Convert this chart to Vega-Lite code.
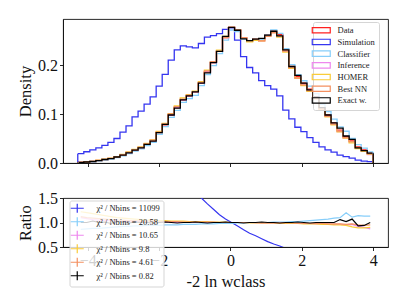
{
  "$schema": "https://vega.github.io/schema/vega-lite/v6.json",
  "padding": {"left": 17, "top": 18, "right": 5, "bottom": 5},
  "background": "white",
  "bounds": "flush",
  "spacing": 35,
  "config": {
    "font": "Liberation Serif",
    "view": {"stroke": "#111", "strokeWidth": 0.9},
    "axis": {"domainColor": "#111", "domainWidth": 0.9, "tickColor": "#111", "tickWidth": 0.9, "tickSize": 3.5, "grid": false, "labelFont": "Liberation Serif", "labelFontSize": 16, "labelColor": "#111", "titleFont": "Liberation Serif", "titleFontSize": 16.5, "titleFontWeight": "normal", "titleColor": "#111", "labelPadding": 2},
    "legend": {"labelFont": "Liberation Serif", "labelColor": "#222"}
  },
  "datasets": {
    "h": [
      {"k":0,"x0":-4.28,"x1":-4.111,"xc":-4.196,"D":0.001,"S":0.019,"C":0.0009,"I":0.0011,"H":0.0012,"B":0.0011,"E":0.001,"rS":19,"rC":0.86,"rI":1.10,"rH":1.22,"rB":1.12,"rE":1.00},
      {"k":1,"x0":-4.111,"x1":-3.942,"xc":-4.027,"D":0.002,"S":0.023,"C":0.0017,"I":0.0022,"H":0.0024,"B":0.0022,"E":0.002,"rS":11.5,"rC":0.87,"rI":1.08,"rH":1.20,"rB":1.10,"rE":1.00},
      {"k":2,"x0":-3.942,"x1":-3.773,"xc":-3.858,"D":0.003,"S":0.027,"C":0.0026,"I":0.0032,"H":0.0035,"B":0.0033,"E":0.0031,"rS":9.0,"rC":0.88,"rI":1.06,"rH":1.18,"rB":1.09,"rE":1.03},
      {"k":3,"x0":-3.773,"x1":-3.604,"xc":-3.689,"D":0.005,"S":0.031,"C":0.0044,"I":0.0053,"H":0.0058,"B":0.0054,"E":0.005,"rS":6.2,"rC":0.88,"rI":1.05,"rH":1.16,"rB":1.08,"rE":1.00},
      {"k":4,"x0":-3.604,"x1":-3.435,"xc":-3.52,"D":0.007,"S":0.036,"C":0.0062,"I":0.0073,"H":0.008,"B":0.0075,"E":0.0071,"rS":5.14,"rC":0.89,"rI":1.04,"rH":1.14,"rB":1.07,"rE":1.01},
      {"k":5,"x0":-3.435,"x1":-3.266,"xc":-3.351,"D":0.009,"S":0.042,"C":0.0081,"I":0.0094,"H":0.0101,"B":0.0095,"E":0.0088,"rS":4.67,"rC":0.90,"rI":1.04,"rH":1.12,"rB":1.06,"rE":0.98},
      {"k":6,"x0":-3.266,"x1":-3.097,"xc":-3.182,"D":0.012,"S":0.050,"C":0.0109,"I":0.0124,"H":0.0132,"B":0.0126,"E":0.0122,"rS":4.17,"rC":0.91,"rI":1.03,"rH":1.10,"rB":1.05,"rE":1.02},
      {"k":7,"x0":-3.097,"x1":-2.928,"xc":-3.013,"D":0.016,"S":0.063,"C":0.0147,"I":0.0165,"H":0.0174,"B":0.0168,"E":0.016,"rS":3.94,"rC":0.92,"rI":1.03,"rH":1.09,"rB":1.05,"rE":1.00},
      {"k":8,"x0":-2.928,"x1":-2.759,"xc":-2.844,"D":0.021,"S":0.076,"C":0.0193,"I":0.0214,"H":0.0227,"B":0.0218,"E":0.0208,"rS":3.62,"rC":0.92,"rI":1.02,"rH":1.08,"rB":1.04,"rE":0.99},
      {"k":9,"x0":-2.759,"x1":-2.59,"xc":-2.675,"D":0.026,"S":0.094,"C":0.0242,"I":0.0265,"H":0.0278,"B":0.027,"E":0.0263,"rS":3.62,"rC":0.93,"rI":1.02,"rH":1.07,"rB":1.04,"rE":1.01},
      {"k":10,"x0":-2.59,"x1":-2.421,"xc":-2.506,"D":0.031,"S":0.106,"C":0.0288,"I":0.0316,"H":0.0329,"B":0.0319,"E":0.031,"rS":3.42,"rC":0.93,"rI":1.02,"rH":1.06,"rB":1.03,"rE":1.00},
      {"k":11,"x0":-2.421,"x1":-2.252,"xc":-2.337,"D":0.038,"S":0.120,"C":0.0357,"I":0.0384,"H":0.0399,"B":0.0391,"E":0.038,"rS":3.16,"rC":0.94,"rI":1.01,"rH":1.05,"rB":1.03,"rE":1.00},
      {"k":12,"x0":-2.252,"x1":-2.083,"xc":-2.168,"D":0.045,"S":0.135,"C":0.0423,"I":0.0455,"H":0.0473,"B":0.0464,"E":0.0446,"rS":3.00,"rC":0.94,"rI":1.01,"rH":1.05,"rB":1.03,"rE":0.99},
      {"k":13,"x0":-2.083,"x1":-1.914,"xc":-1.999,"D":0.062,"S":0.157,"C":0.0583,"I":0.0626,"H":0.0645,"B":0.0632,"E":0.062,"rS":2.53,"rC":0.94,"rI":1.01,"rH":1.04,"rB":1.02,"rE":1.00},
      {"k":14,"x0":-1.914,"x1":-1.745,"xc":-1.83,"D":0.078,"S":0.181,"C":0.0741,"I":0.0788,"H":0.0811,"B":0.0796,"E":0.0788,"rS":2.32,"rC":0.95,"rI":1.01,"rH":1.04,"rB":1.02,"rE":1.01},
      {"k":15,"x0":-1.745,"x1":-1.576,"xc":-1.661,"D":0.098,"S":0.210,"C":0.0931,"I":0.098,"H":0.1009,"B":0.1,"E":0.098,"rS":2.14,"rC":0.95,"rI":1.00,"rH":1.03,"rB":1.02,"rE":1.00},
      {"k":16,"x0":-1.576,"x1":-1.407,"xc":-1.492,"D":0.113,"S":0.231,"C":0.1074,"I":0.113,"H":0.1164,"B":0.1153,"E":0.1119,"rS":2.04,"rC":0.95,"rI":1.00,"rH":1.03,"rB":1.02,"rE":0.99},
      {"k":17,"x0":-1.407,"x1":-1.238,"xc":-1.323,"D":0.129,"S":0.239,"C":0.1238,"I":0.129,"H":0.1329,"B":0.1303,"E":0.129,"rS":1.85,"rC":0.96,"rI":1.00,"rH":1.03,"rB":1.01,"rE":1.00},
      {"k":18,"x0":-1.238,"x1":-1.069,"xc":-1.154,"D":0.137,"S":0.237,"C":0.1315,"I":0.137,"H":0.1397,"B":0.1384,"E":0.137,"rS":1.73,"rC":0.96,"rI":1.00,"rH":1.02,"rB":1.01,"rE":1.00},
      {"k":19,"x0":-1.069,"x1":-0.9,"xc":-0.985,"D":0.144,"S":0.235,"C":0.1382,"I":0.144,"H":0.1469,"B":0.1454,"E":0.1454,"rS":1.63,"rC":0.96,"rI":1.00,"rH":1.02,"rB":1.01,"rE":1.01},
      {"k":20,"x0":-0.9,"x1":-0.731,"xc":-0.816,"D":0.163,"S":0.244,"C":0.1581,"I":0.163,"H":0.1663,"B":0.1646,"E":0.163,"rS":1.50,"rC":0.97,"rI":1.00,"rH":1.02,"rB":1.01,"rE":1.00},
      {"k":21,"x0":-0.731,"x1":-0.562,"xc":-0.647,"D":0.186,"S":0.257,"C":0.1804,"I":0.186,"H":0.1897,"B":0.1879,"E":0.1841,"rS":1.38,"rC":0.97,"rI":1.00,"rH":1.02,"rB":1.01,"rE":0.99},
      {"k":22,"x0":-0.562,"x1":-0.393,"xc":-0.478,"D":0.205,"S":0.260,"C":0.1989,"I":0.205,"H":0.2071,"B":0.2071,"E":0.205,"rS":1.27,"rC":0.97,"rI":1.00,"rH":1.01,"rB":1.01,"rE":1.00},
      {"k":23,"x0":-0.393,"x1":-0.224,"xc":-0.309,"D":0.228,"S":0.264,"C":0.2234,"I":0.228,"H":0.2303,"B":0.228,"E":0.228,"rS":1.16,"rC":0.98,"rI":1.00,"rH":1.01,"rB":1.00,"rE":1.00},
      {"k":24,"x0":-0.224,"x1":-0.055,"xc":-0.14,"D":0.256,"S":0.273,"C":0.2509,"I":0.256,"H":0.2586,"B":0.256,"E":0.2586,"rS":1.07,"rC":0.98,"rI":1.00,"rH":1.01,"rB":1.00,"rE":1.01},
      {"k":25,"x0":-0.055,"x1":0.114,"xc":0.029,"D":0.277,"S":0.276,"C":0.2715,"I":0.277,"H":0.277,"B":0.277,"E":0.277,"rS":1.00,"rC":0.98,"rI":1.00,"rH":1.00,"rB":1.00,"rE":1.00},
      {"k":26,"x0":0.114,"x1":0.283,"xc":0.198,"D":0.271,"S":0.251,"C":0.2683,"I":0.271,"H":0.271,"B":0.271,"E":0.271,"rS":0.93,"rC":0.99,"rI":1.00,"rH":1.00,"rB":1.00,"rE":1.00},
      {"k":27,"x0":0.283,"x1":0.452,"xc":0.367,"D":0.256,"S":0.217,"C":0.2534,"I":0.256,"H":0.256,"B":0.256,"E":0.2534,"rS":0.85,"rC":0.99,"rI":1.00,"rH":1.00,"rB":1.00,"rE":0.99},
      {"k":28,"x0":0.452,"x1":0.621,"xc":0.536,"D":0.250,"S":0.195,"C":0.25,"I":0.25,"H":0.2475,"B":0.25,"E":0.25,"rS":0.78,"rC":1.00,"rI":1.00,"rH":0.99,"rB":1.00,"rE":1.00},
      {"k":29,"x0":0.621,"x1":0.79,"xc":0.705,"D":0.253,"S":0.184,"C":0.253,"I":0.2505,"H":0.2505,"B":0.253,"E":0.253,"rS":0.73,"rC":1.00,"rI":0.99,"rH":0.99,"rB":1.00,"rE":1.00},
      {"k":30,"x0":0.79,"x1":0.959,"xc":0.874,"D":0.252,"S":0.168,"C":0.252,"I":0.2495,"H":0.2495,"B":0.2495,"E":0.2545,"rS":0.67,"rC":1.00,"rI":0.99,"rH":0.99,"rB":0.99,"rE":1.01},
      {"k":31,"x0":0.959,"x1":1.128,"xc":1.043,"D":0.261,"S":0.158,"C":0.261,"I":0.2584,"H":0.2584,"B":0.2584,"E":0.261,"rS":0.61,"rC":1.00,"rI":0.99,"rH":0.99,"rB":0.99,"rE":1.00},
      {"k":32,"x0":1.128,"x1":1.297,"xc":1.212,"D":0.269,"S":0.151,"C":0.2717,"I":0.2663,"H":0.2663,"B":0.2663,"E":0.269,"rS":0.56,"rC":1.01,"rI":0.99,"rH":0.99,"rB":0.99,"rE":1.00},
      {"k":33,"x0":1.297,"x1":1.466,"xc":1.381,"D":0.262,"S":0.137,"C":0.2646,"I":0.2594,"H":0.2568,"B":0.2594,"E":0.2594,"rS":0.52,"rC":1.01,"rI":0.99,"rH":0.98,"rB":0.99,"rE":0.99},
      {"k":34,"x0":1.466,"x1":1.635,"xc":1.55,"D":0.231,"S":0.108,"C":0.2333,"I":0.2287,"H":0.2264,"B":0.2287,"E":0.231,"rS":0.47,"rC":1.01,"rI":0.99,"rH":0.98,"rB":0.99,"rE":1.00},
      {"k":35,"x0":1.635,"x1":1.804,"xc":1.719,"D":0.197,"S":0.090,"C":0.2009,"I":0.1931,"H":0.1931,"B":0.195,"E":0.197,"rS":0.46,"rC":1.02,"rI":0.98,"rH":0.98,"rB":0.99,"rE":1.00},
      {"k":36,"x0":1.804,"x1":1.973,"xc":1.888,"D":0.177,"S":0.073,"C":0.1805,"I":0.1735,"H":0.1735,"B":0.1735,"E":0.1788,"rS":0.41,"rC":1.02,"rI":0.98,"rH":0.98,"rB":0.98,"rE":1.01},
      {"k":37,"x0":1.973,"x1":2.142,"xc":2.057,"D":0.163,"S":0.064,"C":0.1679,"I":0.1597,"H":0.1581,"B":0.1597,"E":0.163,"rS":0.39,"rC":1.03,"rI":0.98,"rH":0.97,"rB":0.98,"rE":1.00},
      {"k":38,"x0":2.142,"x1":2.311,"xc":2.226,"D":0.151,"S":0.052,"C":0.157,"I":0.148,"H":0.1465,"B":0.148,"E":0.1495,"rS":0.34,"rC":1.04,"rI":0.98,"rH":0.97,"rB":0.98,"rE":0.99},
      {"k":39,"x0":2.311,"x1":2.48,"xc":2.395,"D":0.135,"S":0.042,"C":0.1418,"I":0.131,"H":0.131,"B":0.1323,"E":0.135,"rS":0.31,"rC":1.05,"rI":0.97,"rH":0.97,"rB":0.98,"rE":1.00},
      {"k":40,"x0":2.48,"x1":2.649,"xc":2.564,"D":0.113,"S":0.033,"C":0.1198,"I":0.1096,"H":0.1085,"B":0.1107,"E":0.113,"rS":0.29,"rC":1.06,"rI":0.97,"rH":0.96,"rB":0.98,"rE":1.00},
      {"k":41,"x0":2.649,"x1":2.818,"xc":2.733,"D":0.098,"S":0.027,"C":0.1049,"I":0.0951,"H":0.0941,"B":0.0951,"E":0.098,"rS":0.28,"rC":1.07,"rI":0.97,"rH":0.96,"rB":0.97,"rE":1.00},
      {"k":42,"x0":2.818,"x1":2.987,"xc":2.902,"D":0.082,"S":0.022,"C":0.0894,"I":0.0787,"H":0.0779,"B":0.0795,"E":0.082,"rS":0.27,"rC":1.09,"rI":0.96,"rH":0.95,"rB":0.97,"rE":1.00},
      {"k":43,"x0":2.987,"x1":3.156,"xc":3.071,"D":0.067,"S":0.016,"C":0.0737,"I":0.0643,"H":0.0637,"B":0.065,"E":0.071,"rS":0.24,"rC":1.10,"rI":0.96,"rH":0.95,"rB":0.97,"rE":1.06},
      {"k":44,"x0":3.156,"x1":3.325,"xc":3.24,"D":0.054,"S":0.013,"C":0.0648,"I":0.0513,"H":0.0508,"B":0.0518,"E":0.0551,"rS":0.24,"rC":1.20,"rI":0.95,"rH":0.94,"rB":0.96,"rE":1.02},
      {"k":45,"x0":3.325,"x1":3.494,"xc":3.409,"D":0.045,"S":0.010,"C":0.05,"I":0.0432,"H":0.041,"B":0.0437,"E":0.0482,"rS":0.22,"rC":1.11,"rI":0.96,"rH":0.91,"rB":0.97,"rE":1.07},
      {"k":46,"x0":3.494,"x1":3.663,"xc":3.578,"D":0.033,"S":0.006,"C":0.0376,"I":0.0304,"H":0.0294,"B":0.0314,"E":0.0307,"rS":0.18,"rC":1.14,"rI":0.92,"rH":0.89,"rB":0.95,"rE":0.93},
      {"k":47,"x0":3.663,"x1":3.832,"xc":3.747,"D":0.027,"S":0.004,"C":0.0305,"I":0.0243,"H":0.024,"B":0.0254,"E":0.0254,"rS":0.15,"rC":1.13,"rI":0.90,"rH":0.89,"rB":0.94,"rE":0.94},
      {"k":48,"x0":3.832,"x1":4.0,"xc":3.916,"D":0.020,"S":0.003,"C":0.0226,"I":0.0174,"H":0.018,"B":0.019,"E":0.020,"rS":0.15,"rC":1.13,"rI":0.87,"rH":0.90,"rB":0.95,"rE":1.00}
    ]
  },
  "resolve": {"scale": {"color": "independent"}, "legend": {"color": "independent"}},
  "vconcat": [
    {
      "width": 325,
      "height": 144,
      "data": {"name": "h"},
      "transform": [
        {"fold": ["D", "S", "C", "I", "H", "B", "E"], "as": ["s", "d"]},
        {"fold": ["x0", "x1"], "as": ["edge", "xp"]}
      ],
      "layer": [
        {
          "mark": {"type": "line", "strokeWidth": 1.3, "clip": true},
          "encoding": {
            "x": {"field": "xp", "type": "quantitative", "scale": {"domain": [-4.694, 4.414], "nice": false, "zero": false}, "axis": {"values": [-4, -2, 0, 2, 4], "labels": false, "title": null}},
            "y": {"field": "d", "type": "quantitative", "scale": {"domain": [0, 0.294], "nice": false}, "axis": {"values": [0, 0.1, 0.2], "format": ".1f", "title": "Density", "titlePadding": 4}},
            "color": {
              "field": "s", "type": "nominal",
              "scale": {"domain": ["D", "S", "C", "I", "H", "B", "E"], "range": ["#ff2020", "#3535f0", "#87cefa", "#ee88ee", "#f9cc3a", "#f49060", "#000000"]},
              "legend": {
                "orient": "none", "legendX": 250, "legendY": 3, "title": null,
                "labelExpr": "datum.label == 'D' ? 'Data' : datum.label == 'S' ? 'Simulation' : datum.label == 'C' ? 'Classifier' : datum.label == 'I' ? 'Inference' : datum.label == 'H' ? 'HOMER' : datum.label == 'B' ? 'Best NN' : 'Exact w.'",
                "symbolType": "M-3,-0.9H3V0.9H-3Z", "symbolSize": 36, "symbolStrokeWidth": 1.2,
                "labelFontSize": 8.5, "labelOffset": 12, "rowPadding": 0.7, "padding": 4,
                "fillColor": "rgba(255,255,255,0.8)", "strokeColor": "#d5d5d5", "cornerRadius": 2
              }
            },
            "order": {"field": "xp", "type": "quantitative"}
          }
        },
        {
          "transform": [{"filter": "(datum.k == 0 && datum.edge == 'x0') || (datum.k == 48 && datum.edge == 'x1')"}],
          "mark": {"type": "rule", "strokeWidth": 1.3},
          "encoding": {
            "x": {"field": "xp", "type": "quantitative"},
            "y": {"field": "d", "type": "quantitative"},
            "y2": {"datum": 0},
            "color": {"field": "s", "type": "nominal", "legend": null}
          }
        }
      ]
    },
    {
      "width": 325,
      "height": 49,
      "data": {"name": "h"},
      "transform": [{"fold": ["rS", "rC", "rI", "rH", "rB", "rE"], "as": ["s", "r"]}],
      "mark": {"type": "line", "strokeWidth": 1.2, "clip": true},
      "encoding": {
        "x": {"field": "xc", "type": "quantitative", "scale": {"domain": [-4.694, 4.414], "nice": false, "zero": false}, "axis": {"values": [-4, -2, 0, 2, 4], "title": "-2 ln wclass", "titlePadding": 5}},
        "y": {"field": "r", "type": "quantitative", "scale": {"domain": [0.5, 1.5], "nice": false, "zero": false}, "axis": {"values": [0.5, 1, 1.5], "format": ".1f", "title": "Ratio", "titlePadding": 4}},
        "color": {
          "field": "s", "type": "nominal",
          "scale": {"domain": ["rS", "rC", "rI", "rH", "rB", "rE"], "range": ["#3535f0", "#87cefa", "#ee88ee", "#f9cc3a", "#f49060", "#000000"]},
          "legend": {
            "orient": "none", "legendX": 6.5, "legendY": 2.5, "title": null,
            "labelExpr": "datum.label == 'rS' ? 'χ² / Nbins = 11099' : datum.label == 'rC' ? 'χ² / Nbins = 20.58' : datum.label == 'rI' ? 'χ² / Nbins = 10.65' : datum.label == 'rH' ? 'χ² / Nbins = 9.8' : datum.label == 'rB' ? 'χ² / Nbins = 4.61' : 'χ² / Nbins = 0.82'",
            "symbolType": "M-2.17,0H2.17M0,-1.5V1.5", "symbolSize": 36, "symbolStrokeWidth": 1.2,
            "labelFontSize": 8.5, "labelOffset": 15, "rowPadding": -1.5, "padding": 3.5,
            "fillColor": "rgba(255,255,255,0.8)", "strokeColor": "#d5d5d5", "cornerRadius": 2
          }
        }
      }
    }
  ]
}
